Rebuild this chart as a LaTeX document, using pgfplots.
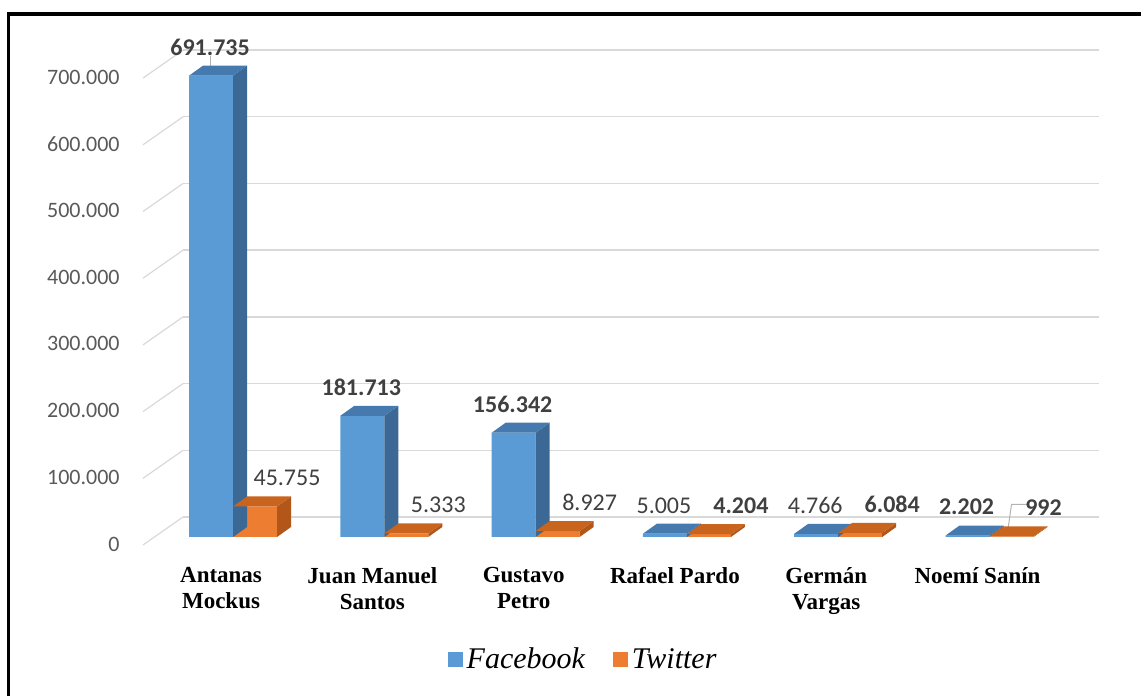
\documentclass[border=0pt]{standalone}
\usepackage{pgfplots}
\pgfplotsset{compat=1.18}
\usepackage{pgfplotstable}
\usepackage{fontspec}
\setmainfont{Liberation Serif}
\newfontfamily\carlito{Carlito}

\definecolor{fbfront}{HTML}{5B9BD5}
\definecolor{fbside}{HTML}{3B6894}
\definecolor{fbtop}{HTML}{4679AD}
\definecolor{twfront}{HTML}{ED7D31}
\definecolor{twside}{HTML}{B2561A}
\definecolor{twtop}{HTML}{C9641F}
\definecolor{gridgray}{HTML}{D9D9D9}
\definecolor{tickgray}{HTML}{595959}
\definecolor{labgray}{HTML}{404040}

% valores en miles
\pgfplotstableread{
x fb      fbb tw     twb
0 691.735 1   45.755 0
1 181.713 1   5.333  0
2 156.342 1   8.927  0
3 5.005   0   4.204  1
4 4.766   0   6.084  1
5 2.202   1   0.992  1
}\datos

% caras laterales y superiores (0.3335pt por mil)
\pgfdeclareplotmark{fbprism}{%
  \pgfmathsetlengthmacro\hh{\barval*0.3335pt}%
  \pgfsetfillcolor{fbside}%
  \pgfpathmoveto{\pgfqpoint{0pt}{0pt}}%
  \pgfpathlineto{\pgfqpoint{7pt}{5pt}}%
  \pgfpathlineto{\pgfpoint{7pt}{5pt-\hh}}%
  \pgfpathlineto{\pgfpoint{0pt}{-\hh}}%
  \pgfpathclose
  \pgfusepath{fill}%
  \pgfsetfillcolor{fbtop}%
  \pgfpathmoveto{\pgfqpoint{-22pt}{0pt}}%
  \pgfpathlineto{\pgfqpoint{-15pt}{5pt}}%
  \pgfpathlineto{\pgfqpoint{7pt}{5pt}}%
  \pgfpathlineto{\pgfqpoint{0pt}{0pt}}%
  \pgfpathclose
  \pgfusepath{fill}%
}
\pgfdeclareplotmark{twprism}{%
  \pgfmathsetlengthmacro\hh{\barval*0.3335pt}%
  \pgfsetfillcolor{twside}%
  \pgfpathmoveto{\pgfqpoint{22pt}{0pt}}%
  \pgfpathlineto{\pgfqpoint{29pt}{5pt}}%
  \pgfpathlineto{\pgfpoint{29pt}{5pt-\hh}}%
  \pgfpathlineto{\pgfpoint{22pt}{-\hh}}%
  \pgfpathclose
  \pgfusepath{fill}%
  \pgfsetfillcolor{twtop}%
  \pgfpathmoveto{\pgfqpoint{0pt}{0pt}}%
  \pgfpathlineto{\pgfqpoint{7pt}{5pt}}%
  \pgfpathlineto{\pgfqpoint{29pt}{5pt}}%
  \pgfpathlineto{\pgfqpoint{22pt}{0pt}}%
  \pgfpathclose
  \pgfusepath{fill}%
}

\begin{document}
\begin{tikzpicture}
\useasboundingbox (0,0) rectangle (570.5pt,348pt);
\draw[line width=1.75pt, line join=miter] (4.25pt,-3pt) -- (4.25pt,341pt) -- (575pt,341pt);

% pared del fondo
\begin{axis}[
  scale only axis,
  width=458pt, height=233.45pt,
  at={(91.5pt,89.5pt)}, anchor=south west,
  xmin=0, xmax=1, ymin=0, ymax=700,
  xtick=\empty,
  ytick={0,100,...,700},
  yticklabels={0,100.000,200.000,300.000,400.000,500.000,600.000,700.000},
  yticklabel style={font=\carlito\fontsize{11}{13}\selectfont, text=tickgray,
    anchor=east, inner sep=0pt, xshift=-31.5pt, yshift=-13.5pt},
  axis line style={draw=none},
  major tick style={draw=none},
  ymajorgrids,
  grid style={gridgray, line width=0.7pt},
  clip=false,
]
\pgfplotsinvokeforeach{0,100,200,300,400,500,600,700}{
  \draw[gridgray, line width=0.6pt] (axis cs:0,#1) -- ++(-20pt,-14pt);
}
\end{axis}

% barras
\begin{axis}[
  scale only axis,
  width=453.9pt, height=233.45pt,
  at={(78.7pt,79.5pt)}, anchor=south west,
  xmin=-0.5, xmax=5.5, ymin=0, ymax=700,
  ytick=\empty,
  xtick={0,...,5},
  xticklabels={{Antanas\\Mockus},{Juan Manuel\\Santos},{Gustavo\\Petro},
    {Rafael Pardo},{Germán\\Vargas},{Noemí Sanín}},
  xticklabel style={font=\bfseries\fontsize{11.5}{13}\selectfont, align=center,
    anchor=north, inner sep=0pt, yshift=-15pt, xshift=-6pt},
  axis line style={draw=none},
  major tick style={draw=none},
  clip=false,
  legend style={draw=none, fill=none, at={(0.470,-0.263)}, anchor=center,
    legend columns=-1, font=\itshape\fontsize{15}{17}\selectfont,
    /tikz/every even column/.append style={column sep=12pt}},
  legend image code/.code={\fill[#1] (0pt,-3.8pt) rectangle (7.5pt,3.7pt);},
  /pgf/number format/assume math mode=true,
  nodes near coords style={font=\carlito\fontsize{12}{14}\selectfont, text=labgray,
    anchor=south, inner sep=0pt, yshift=10pt},
]
% etiquetas de Facebook algo a la izquierda, las de Twitter a la derecha
\addplot[ybar, bar width=22pt, bar shift=-11pt, fill=fbfront, draw=none, forget plot,
  point meta={\thisrow{fb}*1000},
  visualization depends on={\thisrow{fbb} \as \isbold},
  nodes near coords={\ifdim\isbold pt>0.5pt \bfseries\fi\pgfmathprintnumber[fixed,precision=0,1000 sep={.},assume math mode=true]{\pgfplotspointmeta}\hspace*{23pt}}]
  table[x=x, y=fb]{\datos};
\addplot[only marks, mark=fbprism, forget plot,
  visualization depends on={\thisrow{fb} \as \barval}]
  table[x=x, y=fb]{\datos};
\addplot[ybar, bar width=22pt, bar shift=11pt, fill=twfront, draw=none, forget plot,
  point meta={\thisrow{tw}*1000},
  visualization depends on={\thisrow{twb} \as \isbold},
  nodes near coords={\hspace*{54pt}\ifdim\isbold pt>0.5pt \bfseries\fi\pgfmathprintnumber[fixed,precision=0,1000 sep={.},assume math mode=true]{\pgfplotspointmeta}}]
  table[x=x, y=tw]{\datos};
\addplot[only marks, mark=twprism, forget plot,
  visualization depends on={\thisrow{tw} \as \barval}]
  table[x=x, y=tw]{\datos};
% lineas guia
\draw[gray!60, line width=0.5pt] (axis cs:5,0.992) ++(9pt,2pt) -- ++(2pt,14pt) -- ++(8pt,0pt);
\draw[gray!60, line width=0.5pt] (axis cs:0,691.735) ++(-11.5pt,3pt) -- ++(0pt,7pt);
\addlegendimage{fill=fbfront, draw=none}
\addlegendentry{Facebook}
\addlegendimage{fill=twfront, draw=none}
\addlegendentry{Twitter}
\end{axis}
\end{tikzpicture}
\end{document}
